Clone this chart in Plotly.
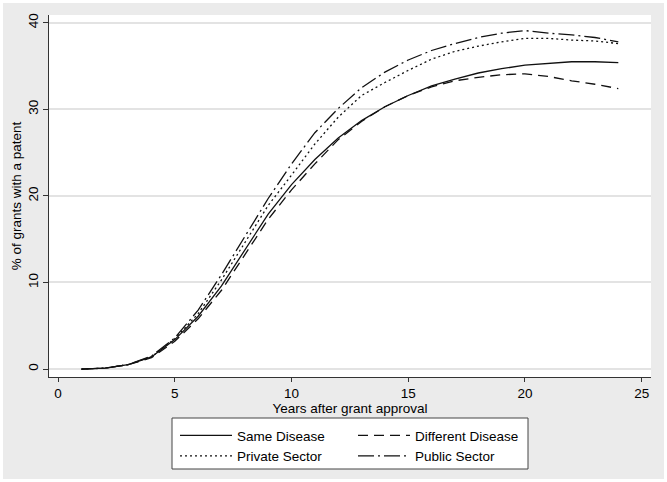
import plotly.graph_objects as go

years = list(range(1, 25))
same_disease = [0.0, 0.1, 0.5, 1.4, 3.4, 6.1, 9.6, 13.8, 17.9, 21.3, 24.2, 26.7,
                28.7, 30.3, 31.6, 32.7, 33.5, 34.2, 34.7, 35.1, 35.3, 35.5, 35.5, 35.4]
different_disease = [0.0, 0.1, 0.5, 1.3, 3.2, 5.8, 9.1, 13.2, 17.3, 20.7, 23.7, 26.5,
                     28.6, 30.3, 31.6, 32.6, 33.3, 33.7, 34.0, 34.1, 33.8, 33.3, 32.9, 32.4]
private_sector = [0.0, 0.1, 0.5, 1.4, 3.5, 6.4, 10.3, 14.6, 18.9, 22.4, 26.0, 29.1,
                  31.6, 33.1, 34.5, 35.8, 36.7, 37.3, 37.8, 38.2, 38.2, 38.0, 37.9, 37.6]
public_sector = [0.0, 0.1, 0.5, 1.5, 3.6, 6.8, 10.9, 15.3, 19.7, 23.7, 27.3, 30.1,
                 32.5, 34.3, 35.7, 36.8, 37.6, 38.3, 38.8, 39.1, 38.8, 38.6, 38.3, 37.8]

x_ticks = [0, 5, 10, 15, 20, 25]
y_ticks = [0, 10, 20, 30, 40]

FONT = "Liberation Sans, Arial, sans-serif"
FS = 13.5
LINE = "#111111"

W, H = 667, 482
ML, MR, MT, MB = 49, 16, 15, 105
PW, PH = W - ML - MR, H - MT - MB


def px_x(p):
    return (p - ML) / PW


def px_y(p):
    return (H - MB - p) / PH


fig = go.Figure()
series = [
    ("Same Disease", same_disease, "solid", "legend"),
    ("Different Disease", different_disease, "10px,6px", "legend2"),
    ("Private Sector", private_sector, "2px,3px", "legend"),
    ("Public Sector", public_sector, "16px,4px,2px,4px", "legend2"),
]
for name, vals, dash, lg in series:
    fig.add_trace(go.Scatter(
        x=years, y=vals, mode="lines", name=name, legend=lg,
        line=dict(color=LINE, width=1.3, dash=dash),
    ))

legend_common = dict(
    orientation="v", xanchor="left", yanchor="top",
    bgcolor="rgba(0,0,0,0)", borderwidth=0,
    font=dict(family=FONT, size=FS, color="#000"),
    itemwidth=52, tracegroupgap=0,
)

fig.update_layout(
    width=W, height=H, autosize=False,
    margin=dict(l=ML, r=MR, t=MT, b=MB, autoexpand=False),
    paper_bgcolor="#ebebeb", plot_bgcolor="white",
    font=dict(family=FONT, size=FS, color="#000"),
    showlegend=True,
    legend=dict(x=px_x(175), y=px_y(420), **legend_common),
    legend2=dict(x=px_x(353), y=px_y(420), **legend_common),
    xaxis=dict(
        range=[-0.39, 25.4], tickvals=x_ticks, ticktext=[str(v) for v in x_ticks],
        automargin=False,
        showline=True, linecolor="#333", linewidth=1, mirror=False,
        ticks="outside", ticklen=4, tickcolor="#333", showgrid=False, zeroline=False,
        tickfont=dict(family=FONT, size=FS, color="#000"),
        title=dict(text="Years after grant approval", standoff=1,
                   font=dict(family=FONT, size=FS, color="#000")),
    ),
    yaxis=dict(
        range=[-0.92, 40.9], tickvals=y_ticks, ticktext=[str(v) for v in y_ticks],
        automargin=False,
        showline=True, linecolor="#333", linewidth=1,
        ticks="outside", ticklen=5, tickcolor="#333",
        showgrid=True, gridcolor="#e3e3e3", gridwidth=1.5, zeroline=False,
        tickangle=-90,
        tickfont=dict(family=FONT, size=FS, color="#000"),
        title=dict(text="% of grants with a patent", standoff=0,
                   font=dict(family=FONT, size=FS, color="#000")),
    ),
    shapes=[
        dict(type="rect", xref="paper", yref="paper",
             x0=px_x(172), x1=px_x(528), y0=px_y(469), y1=px_y(418),
             fillcolor="white", line=dict(color="#444", width=1), layer="below"),
        dict(type="rect", xref="paper", yref="paper",
             x0=px_x(0), x1=px_x(W), y0=px_y(H), y1=px_y(0),
             fillcolor="rgba(0,0,0,0)", line=dict(color="white", width=6), layer="above"),
    ],
)

fig.write_html(
    "out.html",
    config={"displayModeBar": False},
    post_script="document.body.style.margin='0px';document.body.style.overflow='hidden';",
)
